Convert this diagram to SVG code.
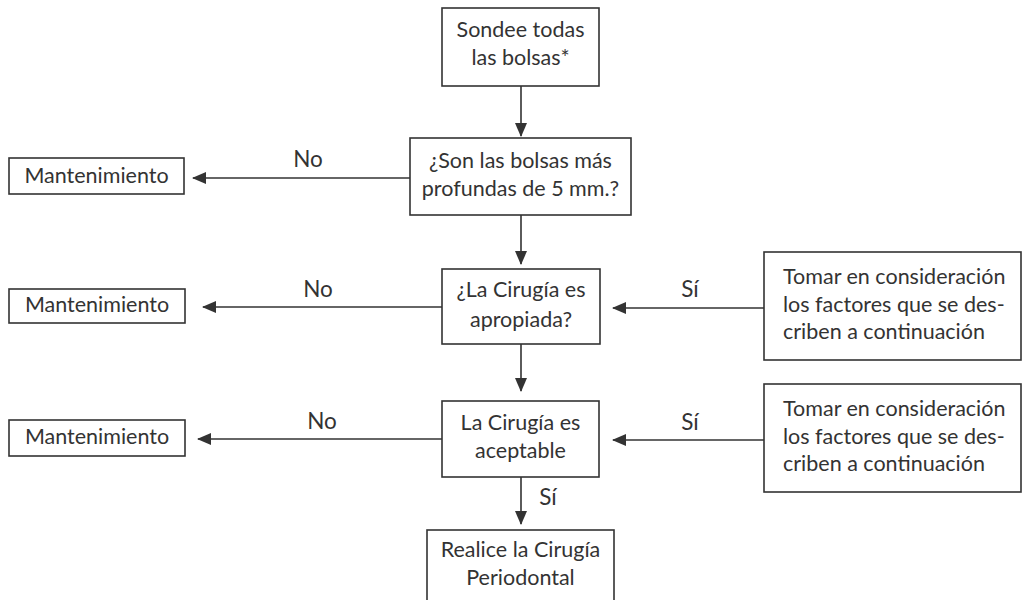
<svg xmlns="http://www.w3.org/2000/svg" width="1022" height="600" viewBox="0 0 1022 600">
<style>
.box{fill:#fff;stroke:#333;stroke-width:1.6}
.t{font-family:Lato,"Open Sans",sans-serif;font-size:21.5px;fill:#333;text-anchor:middle}
.s{font-family:Lato,"Open Sans",sans-serif;font-size:21.5px;fill:#333;text-anchor:start}
.l{font-family:Lato,"Open Sans",sans-serif;font-size:22.5px;fill:#333;text-anchor:middle}
.c{stroke:#333;stroke-width:1.6;fill:none;marker-end:url(#ah)}
</style>
<defs>
<marker id="ah" markerWidth="14" markerHeight="12" refX="13" refY="6" orient="auto" markerUnits="userSpaceOnUse">
<path d="M0,0 L14,6 L0,12 Z" fill="#333"/>
</marker>
</defs>
<rect width="1022" height="600" fill="#fff"/>
<g id="connectors">
<line class="c" x1="521" y1="86" x2="521" y2="136"/>
<line class="c" x1="410" y1="178" x2="193" y2="178"/>
<line class="c" x1="521" y1="215" x2="521" y2="264"/>
<line class="c" x1="442" y1="307" x2="203" y2="307"/>
<line class="c" x1="764" y1="308" x2="613" y2="308"/>
<line class="c" x1="521" y1="344" x2="521" y2="391"/>
<line class="c" x1="442" y1="439" x2="198" y2="439"/>
<line class="c" x1="764" y1="440" x2="613" y2="440"/>
<line class="c" x1="521" y1="477" x2="521" y2="524"/>
<text class="l" x="308" y="167">No</text>
<text class="l" x="318" y="297">No</text>
<text class="l" x="322" y="429">No</text>
<text class="l" x="690" y="297">Sí</text>
<text class="l" x="690" y="430">Sí</text>
<text class="l" x="548" y="505">Sí</text>
</g>
<g id="n1">
<rect class="box" x="442" y="8" width="157" height="78"/>
<text class="t" x="520.5" y="37">Sondee todas</text>
<text class="t" x="520.5" y="65">las bolsas*</text>
</g>
<g id="n2">
<rect class="box" x="410" y="138" width="221" height="77"/>
<text class="t" x="520.5" y="168">¿Son las bolsas más</text>
<text class="t" x="520.5" y="196">profundas de 5 mm.?</text>
</g>
<g id="m1">
<rect class="box" x="9" y="158" width="175" height="36"/>
<text class="t" x="96.5" y="183">Mantenimiento</text>
</g>
<g id="n3">
<rect class="box" x="442" y="269" width="158" height="75"/>
<text class="t" x="521" y="297">¿La Cirugía es</text>
<text class="t" x="521" y="327">apropiada?</text>
</g>
<g id="m2">
<rect class="box" x="9" y="289" width="176" height="34"/>
<text class="t" x="97" y="312">Mantenimiento</text>
</g>
<g id="r1">
<rect class="box" x="764" y="252" width="257" height="108"/>
<text class="s" x="783" y="284">Tomar en consideración</text>
<text class="s" x="783" y="312">los factores que se des-</text>
<text class="s" x="783" y="339">criben a continuación</text>
</g>
<g id="n4">
<rect class="box" x="442" y="401" width="157" height="76"/>
<text class="t" x="520.5" y="430">La Cirugía es</text>
<text class="t" x="520.5" y="458">aceptable</text>
</g>
<g id="m3">
<rect class="box" x="9" y="420" width="176" height="36"/>
<text class="t" x="97" y="444">Mantenimiento</text>
</g>
<g id="r2">
<rect class="box" x="764" y="384" width="257" height="108"/>
<text class="s" x="783" y="416">Tomar en consideración</text>
<text class="s" x="783" y="444">los factores que se des-</text>
<text class="s" x="783" y="471">criben a continuación</text>
</g>
<g id="n5">
<rect class="box" x="427" y="530" width="187" height="80"/>
<text class="t" x="520.5" y="557">Realice la Cirugía</text>
<text class="t" x="520.5" y="585">Periodontal</text>
</g>
</svg>
